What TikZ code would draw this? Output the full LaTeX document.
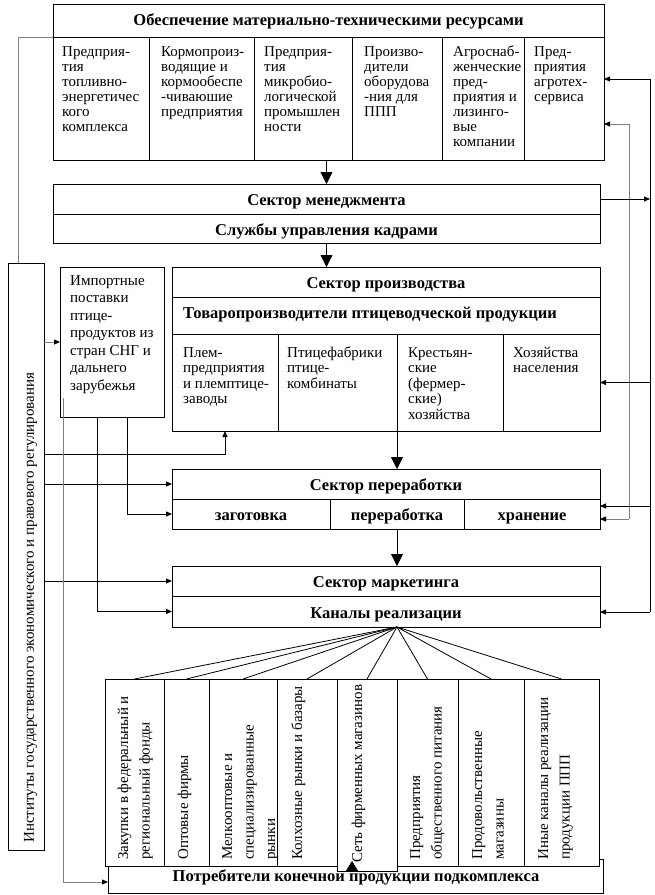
\documentclass[tikz,border=0pt]{standalone}
\usepackage{fontspec}
\setmainfont{Liberation Serif}
\usetikzlibrary{arrows.meta,calc}
\newcommand\fl{\rule{0pt}{11pt}}
\newcommand\cellfnt{\fontsize{15}{14.9}\selectfont}
\newcommand\prodfnt{\fontsize{15}{15.5}\selectfont}
\newcommand\impfnt{\fontsize{15}{17.5}\selectfont}
\newcommand\rotfnt{\fontsize{15}{21.5}\selectfont}
\newcommand\ttlfnt{\fontsize{16.5}{18}\selectfont\bfseries}
\begin{document}
\begin{tikzpicture}[x=1pt,y=-1pt,
  box/.style={draw,line width=0.8pt,inner sep=0pt,outer sep=0pt,anchor=north west,fill=white},
  ttl/.style={font=\ttlfnt,text height=21pt,text depth=8pt},
  ctxt/.style={inner sep=0pt,anchor=north west,align=left},
  rtxt/.style={inner sep=0pt,anchor=north west,align=left,rotate=90,font=\rotfnt},
  ln/.style={line width=0.8pt},
  arr/.style={line width=0.8pt,-{Triangle[length=6pt,width=5pt,color=black]}},
  bigarr/.style={line width=0.8pt,-{Triangle[length=12pt,width=12pt]}},
  glin/.style={draw=black!50,line width=1pt}]
\useasboundingbox (0,0) rectangle (655,895);

% ---------- top box ----------
\node[box,ttl,text height=21pt,text depth=12pt,minimum width=551pt,minimum height=33pt] (tophead) at (53,4) {Обеспечение материально-техническими ресурсами};
\node[box,minimum width=96pt,minimum height=123pt] (t1) at (53,37) {};
\node[box,minimum width=105pt,minimum height=123pt] (t2) at (149,37) {};
\node[box,minimum width=98pt,minimum height=123pt] (t3) at (254,37) {};
\node[box,minimum width=90pt,minimum height=123pt] (t4) at (352,37) {};
\node[box,minimum width=82pt,minimum height=123pt] (t5) at (442,37) {};
\node[box,minimum width=80pt,minimum height=123pt] (t6) at (524,37) {};
\node[ctxt,font=\cellfnt] (t1t) at (62,45.7) {\fl Предприя-\\тия\\топливно-\\энергетичес\\кого\\комплекса};
\node[ctxt,font=\cellfnt] (t2t) at (161,45.7) {\fl Кормопроиз-\\водящие и\\кормообеспе\\-чиваюшие\\предприятия};
\node[ctxt,font=\cellfnt] (t3t) at (264,45.7) {\fl Предприя-\\тия\\микробио-\\логической\\промышлен\\ности};
\node[ctxt,font=\cellfnt] (t4t) at (364,45.7) {\fl Произво-\\дители\\оборудова\\-ния для\\ППП};
\node[ctxt,font=\cellfnt] (t5t) at (453,45.7) {\fl Агроснаб-\\женческие\\пред-\\приятия и\\лизинго-\\вые\\компании};
\node[ctxt,font=\cellfnt] (t6t) at (534,45.7) {\fl Пред-\\приятия\\агротех-\\сервиса};

% ---------- management ----------
\node[box,ttl,minimum width=547pt,minimum height=30pt] (mg1) at (53,184) {Сектор менеджмента};
\node[box,ttl,minimum width=547pt,minimum height=29pt] (mg2) at (53,214) {Службы управления кадрами};

% ---------- institutions & import ----------
\node[box,minimum width=36pt,minimum height=587pt] (inst) at (8,263) {};
\node[inner sep=0pt,rotate=90,anchor=base west,font=\cellfnt] (instt) at (34,843) {Институты государственного экономического и правового регулирования};
\node[box,minimum width=104pt,minimum height=150pt] (imp) at (60,267) {};
\node[ctxt,font=\impfnt] (impt) at (70,274) {\fl Импортные\\поставки\\птице-\\продуктов из\\стран СНГ и\\дальнего\\зарубежья};

% ---------- production ----------
\node[box,ttl,minimum width=428pt,minimum height=30pt] (pr1) at (172,267) {Сектор производства};
\node[box,minimum width=428pt,minimum height=37pt] (pr2) at (172,297) {};
\node[inner sep=0pt,anchor=base west,font=\ttlfnt] (pr2t) at (183,318) {Товаропроизводители птицеводческой продукции};
\node[box,minimum width=106pt,minimum height=97pt] (p1) at (172,334) {};
\node[box,minimum width=119pt,minimum height=97pt] (p2) at (278,334) {};
\node[box,minimum width=106pt,minimum height=97pt] (p3) at (397,334) {};
\node[box,minimum width=97pt,minimum height=97pt] (p4) at (503,334) {};
\node[ctxt,font=\prodfnt] (p1t) at (183,346) {\fl Плем-\\предприятия\\и племптице-\\заводы};
\node[ctxt,font=\prodfnt] (p2t) at (287,346) {\fl Птицефабрики\\птице-\\комбинаты};
\node[ctxt,font=\prodfnt] (p3t) at (408,346) {\fl Крестьян-\\ские\\(фермер-\\ские)\\хозяйства};
\node[ctxt,font=\prodfnt] (p4t) at (513,346) {\fl Хозяйства\\населения};

% ---------- processing ----------
\node[box,ttl,minimum width=428pt,minimum height=30pt] (pc1) at (172,469) {Сектор переработки};
\node[box,ttl,minimum width=158pt,minimum height=30pt] (pc2) at (172,499) {заготовка};
\node[box,ttl,minimum width=134pt,minimum height=30pt] (pc3) at (330,499) {переработка};
\node[box,ttl,minimum width=136pt,minimum height=30pt] (pc4) at (464,499) {хранение};

% ---------- marketing ----------
\node[box,ttl,minimum width=428pt,minimum height=30pt] (mk1) at (172,566) {Сектор маркетинга};
\node[box,ttl,minimum width=428pt,minimum height=31pt] (mk2) at (172,596) {Каналы реализации};

% ---------- consumers & channels ----------
\node[box,minimum width=495pt,minimum height=34pt] (cons) at (108,859) {};
\node[inner sep=0pt,anchor=base,font=\ttlfnt] (const) at (356,881) {Потребители конечной продукции подкомплекса};
\node[box,minimum width=59pt,minimum height=187pt] (ch1) at (105,679) {};
\node[box,minimum width=45pt,minimum height=187pt] (ch2) at (164,679) {};
\node[box,minimum width=68pt,minimum height=187pt] (ch3) at (209,679) {};
\node[box,minimum width=60pt,minimum height=187pt] (ch4) at (277,679) {};
\node[box,minimum width=60pt,minimum height=192pt] (ch5) at (337,679) {};
\node[box,minimum width=61pt,minimum height=187pt] (ch6) at (397,679) {};
\node[box,minimum width=66pt,minimum height=187pt] (ch7) at (458,679) {};
\node[box,minimum width=75pt,minimum height=187pt] (ch8) at (524,679) {};
\node[rtxt] (ch1t) at (117,860) {\fl Закупки в федеральный и\\региональный фонды};
\node[rtxt] (ch2t) at (177,860) {\fl Оптовые фирмы};
\node[rtxt] (ch3t) at (221,860) {\fl Мелкооптовые и\\специализированные\\рынки};
\node[rtxt] (ch4t) at (291,860) {\fl Колхозные рынки и базары};
\node[rtxt] (ch5t) at (351,863) {\fl Сеть фирменных магазинов};
\node[rtxt] (ch6t) at (409,860) {\fl Предприятия\\общественного питания};
\node[rtxt] (ch7t) at (471,860) {\fl Продовольственные\\магазины};
\node[rtxt] (ch8t) at (537,860) {\fl Иные каналы реализации\\продукции ППП};

% ---------- main vertical flow ----------
\draw[bigarr] (mg1.north |- t1.south) -- (mg1.north);
\draw[bigarr] (mg2.south) -- (mg2.south |- pr1.north);
\draw[bigarr] (p3.south west) -- (p3.south west |- pc1.north);
\draw[bigarr] (pc3.south) -- (pc3.south |- mk1.north);

% ---------- fan to channels ----------
\coordinate (fan) at ($(mk2.south west)+(225,0)$);
\foreach \c in {ch1,ch2,ch3,ch4,ch5,ch6,ch7,ch8} \draw[ln] (fan) -- (\c.north);
\draw[-{Triangle[length=10pt,width=12pt]}] ($(ch5.south west)+(15,1)$) -- ++(0,-11);

% ---------- left side ----------
\draw[glin] ($(inst.north west)+(10,0)$) |- (t1.north west);
\draw[arr,draw=black!50] (inst.east |- imp.west) -- (imp.west);
\coordinate (yA) at (0,454);
\draw[arr] (inst.east |- yA) -| (p1.south);
\draw[arr] (inst.east |- pc1.west) -- (pc1.west);
\draw[arr] (inst.east |- mk1.west) -- (mk1.west);
\coordinate (ix1) at ($(imp.south west)+(67,0)$);
\coordinate (ix2) at ($(imp.south west)+(37,0)$);
\draw[arr] (ix1) |- (pc2.west);
\draw[arr] (ix2) |- (mk2.west);
\coordinate (ig) at ($(imp.south west)+(3,-19)$);
\draw[arr,draw=black!50] (ig) |- ($(cons.west)+(0,6)$);

% ---------- right side ----------
\coordinate (busA) at (650,79);
\coordinate (busB) at (650,612);
\coordinate (busC) at (629,124);
\coordinate (busD) at (629,519);
\draw[ln] (busA) -- (busB);
\draw[glin] (busC) -- (busD);
\draw[arr] (busA) -- (busA -| t6.east);
\draw[arr,draw=black!50] (busC) -- (busC -| t6.east);
\draw[arr] (mg1.east) -- (mg1.east -| busA);
\draw[arr] (busA |- p4.east) -- (p4.east);
\draw[arr] (busA |- {$(pc4.east)+(0,-8)$}) -- ($(pc4.east)+(0,-8)$);
\draw[arr,draw=black!50] (busD) -- (busD -| pc4.east);
\draw[arr] (busB) -- (busB -| mk2.east);
\end{tikzpicture}
\end{document}
